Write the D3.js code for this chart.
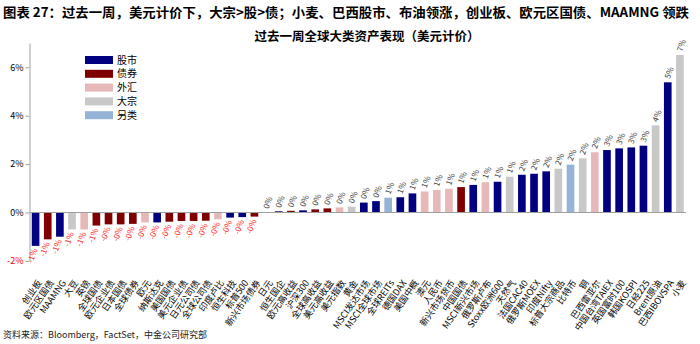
<!DOCTYPE html>
<html><head><meta charset="utf-8">
<script src="https://cdn.jsdelivr.net/npm/d3@7"></script>
<style>
body{margin:0;background:#fff;}
text{font-family:"Noto Sans CJK SC","Noto Sans",sans-serif;}
</style></head>
<body>
<svg id="c" width="700" height="344"></svg>
<script>
const categories = ["创业板","欧元区国债","MAAMNG","大豆","英镑","全球国债","欧元企业债","日本国债","全球债券","欧元","纳斯达克","美国国债","美元企业债","日元公司债","全球公司债","印度卢比","恒生科技","标普500","新兴市场债券","日元","恒生国企","欧元高收益","沪深300","全球高收益","美元高收益","美元指数","黄金","MSCI发达市场","MSCI全球市场","全球REITs","德国DAX","美国中概","澳元","人民币","新兴市场货币","中国国债","MSCI新兴市场","俄罗斯卢布","Stoxx欧洲600","天然气","法国CAC40","俄罗斯MOEX","印度Nifty","标普大宗商品","比特币","铜","巴西雷亚尔","中国台湾TAIEX","英国富时100","韩国KOSPI","日经225","Brent原油","巴西IBOVSPA","小麦"];
const values = [-1.38,-1.11,-1.00,-0.70,-0.70,-0.54,-0.49,-0.49,-0.47,-0.41,-0.41,-0.38,-0.35,-0.35,-0.34,-0.28,-0.21,-0.19,-0.17,0.01,0.05,0.07,0.09,0.13,0.17,0.21,0.24,0.41,0.47,0.61,0.63,0.79,0.87,0.93,0.98,1.05,1.14,1.25,1.27,1.48,1.56,1.60,1.70,1.81,1.98,2.24,2.49,2.58,2.65,2.69,2.76,3.60,5.38,6.51];
const types = ["股市","债券","股市","大宗","外汇","债券","债券","债券","债券","外汇","股市","债券","债券","债券","债券","外汇","股市","股市","债券","外汇","股市","债券","股市","债券","债券","外汇","大宗","股市","股市","另类","股市","股市","外汇","外汇","外汇","债券","股市","外汇","股市","大宗","股市","股市","股市","大宗","另类","大宗","外汇","股市","股市","股市","股市","大宗","股市","大宗"];
const legendKeys = ["股市","债券","外汇","大宗","另类"];
const legendColors = ["#000080","#7F0000","#E6B9B8","#C8C8C8","#95B3D7"];
const yTicks = [-2,0,2,4,6];
const title = "图表 27：过去一周，美元计价下，大宗>股>债；小麦、巴西股市、布油领涨，创业板、欧元区国债、MAAMNG 领跌";
const subtitle = "过去一周全球大类资产表现（美元计价）";
const source = "资料来源：Bloomberg，FactSet，中金公司研究部";

const svg = d3.select("#c");
const color = d3.scaleOrdinal().domain(legendKeys).range(legendColors);
const data = categories.map((c,i)=>({c, v:values[i], t:types[i]}));

const x = d3.scaleBand().domain(categories).range([29.5,686]).paddingInner(0.37).paddingOuter(0.185);
const y = d3.scaleLinear().domain([-2,7]).range([260.9,43.1]);

// titles
svg.append("text").attr("x",3).attr("y",17).attr("font-size",13).attr("font-weight","bold")
  .attr("textLength",686).attr("lengthAdjust","spacingAndGlyphs").attr("fill","#000").text(title);
svg.append("text").attr("x",367).attr("y",41).attr("text-anchor","middle").attr("font-size",12.5)
  .attr("font-weight","bold").attr("fill","#000").text(subtitle);

// y axis
const yAxis = d3.axisLeft(y).tickValues(yTicks).tickFormat(d=>d+"%").tickSize(4).tickSizeOuter(0);
const ga = svg.append("g").attr("transform","translate(29.5,0)").call(yAxis);
ga.select(".domain").attr("stroke","#a0a0a0");
ga.selectAll(".tick line").attr("stroke","#a0a0a0");
ga.selectAll(".tick text").attr("font-size",9).attr("font-family","Arial,'Liberation Sans',sans-serif")
  .attr("fill",d=>d<0?"#FF0000":"#000").attr("x",-6);

// bars
svg.append("g").selectAll("rect").data(data).join("rect")
  .attr("x",d=>x(d.c)).attr("width",x.bandwidth())
  .attr("y",d=>y(Math.max(0,d.v))).attr("height",d=>Math.abs(y(d.v)-y(0)))
  .attr("fill",d=>color(d.t));

// zero line
svg.append("line").attr("x1",29.5).attr("x2",686).attr("y1",y(0)).attr("y2",y(0))
  .attr("stroke","#a0a0a0").attr("stroke-width",1);

// value labels
const fmt = v => (v<0?"-":"") + Math.abs(Math.round(v)) + "%";
svg.append("g").selectAll("text").data(data).join("text")
  .attr("transform",d=>{
    const cx = x(d.c)+x.bandwidth()/2+2;
    const yy = d.v>=0 ? y(d.v)-3 : y(d.v)+4;
    return `translate(${cx},${yy}) rotate(-70)`;
  })
  .attr("text-anchor",d=>d.v>=0?"start":"end")
  .attr("font-size",8).attr("font-family","Arial,'Liberation Sans',sans-serif")
  .attr("fill",d=>d.v<0?"#FF2020":"#3a3a3a")
  .text(d=>fmt(d.v));

// category labels
svg.append("g").selectAll("text").data(data).join("text")
  .attr("transform",d=>`translate(${x(d.c)+x.bandwidth()/2+4},${281}) rotate(-55)`)
  .attr("text-anchor","end").attr("dy","0.35em")
  .attr("font-size",9).attr("fill","#000").text(d=>d.c);

// legend
const lg = svg.append("g").selectAll("g").data(legendKeys).join("g")
  .attr("transform",(d,i)=>`translate(85,${56+i*13.8})`);
lg.append("rect").attr("width",28).attr("height",8).attr("fill",d=>color(d));
lg.append("text").attr("x",32).attr("y",4).attr("dy","0.35em").attr("font-size",10).attr("fill","#000").text(d=>d);

// source
svg.append("text").attr("x",3).attr("y",338).attr("font-size",9).attr("fill","#222").text(source);
</script>
</body></html>
